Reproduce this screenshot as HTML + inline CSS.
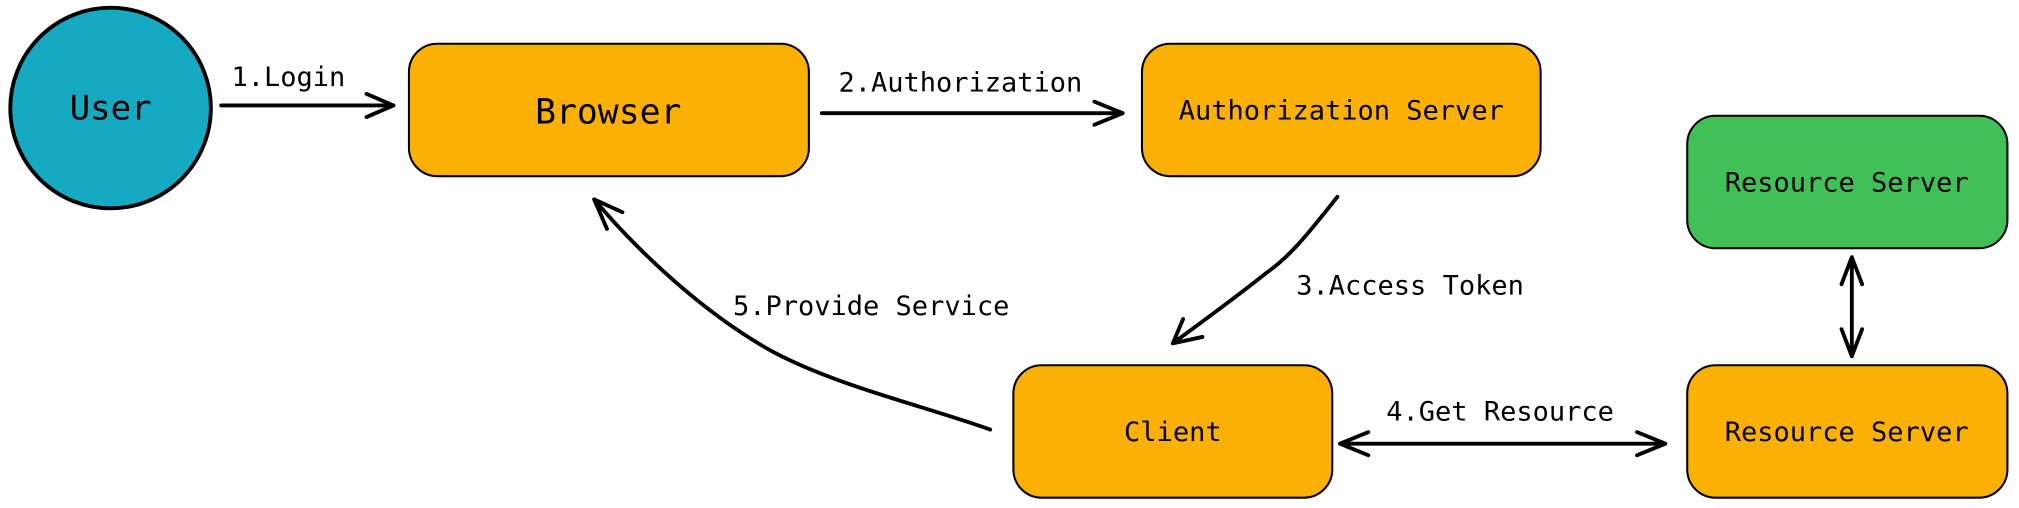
<!DOCTYPE html>
<html><head><style>html,body{margin:0;padding:0;background:#fff}svg{display:block}text{font-family:"DejaVu Sans Mono","Liberation Mono",monospace;fill:#000}</style></head>
<body>
<svg width="2019" height="508" viewBox="0 0 1570 395" xmlns="http://www.w3.org/2000/svg">
<g stroke="#000" stroke-width="1.6">
<circle cx="86" cy="84" r="78" fill="#15aac1" stroke-width="3"/>
<rect x="318" y="34" width="311" height="103" rx="22" fill="#fab005"/>
<rect x="888" y="34" width="310" height="103" rx="22" fill="#fab005"/>
<rect x="1312" y="90" width="249" height="103" rx="22" fill="#40c057"/>
<rect x="788" y="284" width="248" height="103" rx="22" fill="#fab005"/>
<rect x="1312" y="284" width="249" height="103" rx="22" fill="#fab005"/>
</g>
<g stroke="#000" stroke-width="3" fill="none" stroke-linecap="round" stroke-linejoin="round">
<path d="M172 82 L306 82 M285 73 L306 82 L285 91"/>
<path d="M639 88 L873 88 M851 79 L873 88 L851 97"/>
<path d="M1040 153 C1020 178 1005 198 985 212 C960 232 935 250 912 267 M920 248 L912 267 L935 262"/>
<path d="M770 334 C720 316 650 300 600 273 C550 245 500 200 462 155 M484 165 L462 155 L472 178"/>
<path d="M1042 345 L1295 345 M1064 336 L1042 345 L1064 354 M1273 336 L1295 345 L1273 354"/>
<path d="M1440 200 L1440 277 M1432 221 L1440 200 L1448 221 M1432 256 L1440 277 L1448 256"/>
</g>
<text x="86" y="93" font-size="26.5" text-anchor="middle">User</text>
<text x="473" y="96" font-size="27" text-anchor="middle">Browser</text>
<text x="1043" y="93" font-size="21" text-anchor="middle">Authorization Server</text>
<text x="1436" y="149" font-size="21" text-anchor="middle">Resource Server</text>
<text x="912" y="343" font-size="21" text-anchor="middle">Client</text>
<text x="1436" y="343" font-size="21" text-anchor="middle">Resource Server</text>
<text x="180" y="67" font-size="21">1.Login</text>
<text x="652" y="71" font-size="21">2.Authorization</text>
<text x="1008" y="229" font-size="21">3.Access Token</text>
<text x="1078" y="327" font-size="21">4.Get Resource</text>
<text x="570" y="245" font-size="21">5.Provide Service</text>
</svg>
</body></html>
